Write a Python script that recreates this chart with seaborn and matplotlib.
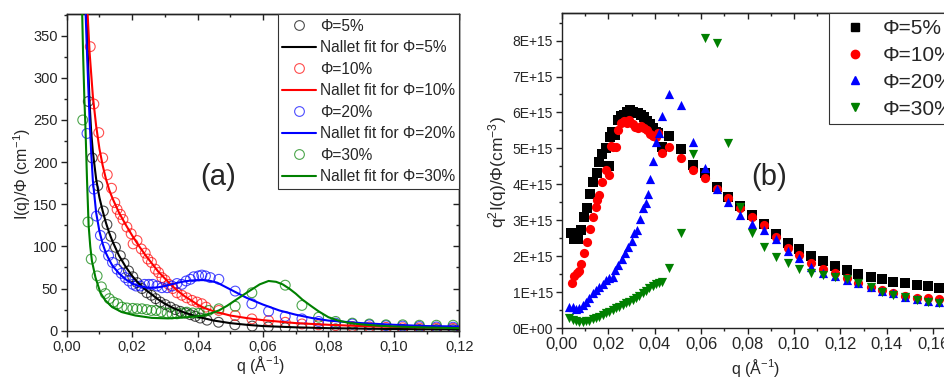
import numpy as np
import matplotlib
matplotlib.use("Agg")
import matplotlib.pyplot as plt
import seaborn as sns
from matplotlib.lines import Line2D
from matplotlib.ticker import MultipleLocator, FuncFormatter

# ---------------- data: panel (a)  I(q)/Phi vs q ----------------
qa_5 = [0.0066,0.0078,0.0095,0.0112,0.0123,0.0135,0.0149,0.0164,0.0175,0.0189,
        0.0202,0.0215,0.0230,0.0245,0.0259,0.0272,0.0286,0.0301,0.0317,0.0332,
        0.0347,0.0363,0.0378,0.0393,0.0408,0.0429,0.0464,0.0514,0.0567,0.0616,
        0.0668,0.0719,0.0770,0.0822,0.0873,0.0925,0.0976,0.1027,0.1078,0.1130,0.1181]
Ia_5 = [272,205,172,142,126,112,99,89,80,71,
        64,57,50,45,42,38,34,31,28,25,
        23,21,19,17,15,12.5,10,7,5.5,4.5,
        3.5,3,2.5,2.2,2,1.8,1.6,1.5,1.4,1.3,1.2]

qa_10 = [0.0072,0.0083,0.0098,0.0110,0.0124,0.0137,0.0147,0.0154,0.0164,0.0172,
         0.0184,0.0197,0.0203,0.0215,0.0228,0.0240,0.0248,0.0259,0.0271,0.0281,
         0.0291,0.0301,0.0312,0.0324,0.0337,0.0352,0.0367,0.0383,0.0398,0.0413,
         0.0426,0.0465,0.0515,0.0566,0.0617,0.0668,0.0719,0.0770,0.0822,0.0873,
         0.0925,0.0976,0.1027,0.1078,0.1130,0.1181]
Ia_10 = [337,269,235,205,185,169,152,144,138,132,
         123,115,103,107,97,92,85,81,73,69,
         63,60,55,50,45,42,39,36,34,32,
         28,24,18,14,12,10,8,7,6,5,
         4.5,4,3.5,3.2,3,2.8]

qa_20 = [0.0062,0.0083,0.0091,0.0103,0.0116,0.0128,0.0140,0.0154,0.0167,0.0179,
         0.0190,0.0202,0.0212,0.0225,0.0238,0.0251,0.0263,0.0276,0.0291,0.0307,
         0.0322,0.0337,0.0352,0.0365,0.0378,0.0388,0.0403,0.0413,0.0424,0.0439,
         0.0465,0.0515,0.0566,0.0617,0.0668,0.0719,0.0770,0.0822,0.0873,0.0925,
         0.0976,0.1027,0.1078,0.1130,0.1181]
Ia_20 = [234,168,136,113,99,89,81,73,68,63,
         59,55,53,53,55,55,55,53,51,51,
         53,56,55,59,61,64,65,66,65,63,
         61,47,32,23,17,14,11,9,8,7,
         6,5.5,5,4.5,4.2]

qa_30 = [0.0049,0.0065,0.0075,0.0093,0.0106,0.0118,0.0130,0.0143,0.0156,0.0169,
         0.0184,0.0202,0.0215,0.0230,0.0245,0.0259,0.0273,0.0289,0.0307,0.0322,
         0.0337,0.0352,0.0367,0.0385,0.0403,0.0419,0.0434,0.0465,0.0515,0.0566,
         0.0668,0.0719,0.0770,0.0822,0.0873,0.0925,0.0976,0.1027,0.1078,0.1130,0.1181]
Ia_30 = [250,129,85,65,52,44,38,34,32,28,
         27,26.5,26,26,25,24,24,22.5,21,20,
         20,21,22,21,20.5,22,24,26,29,45,
         54,30,16,11,9,8,7,7,6.5,6.5,6.5]

# Nallet fits
qf_5 = [0.0061,0.0065,0.0070,0.0075,0.0080,0.0090,0.0100,0.0110,0.0120,0.0130,
        0.0140,0.0160,0.0180,0.0200,0.0220,0.0240,0.0260,0.0280,0.0300,0.0320,
        0.0340,0.0360,0.0380,0.0400,0.0450,0.0500,0.0550,0.0600,0.0700,0.0800,
        0.0900,0.1000,0.1200]
If_5 = [375,320,270,235,212,180,158,142,128,116,
        106,89,76,65,56,49,43,37,32,28,
        24.5,21.5,19,16.5,12,9,7,5.5,4,3,
        2.5,2,1.5]

qf_10 = [0.0064,0.0070,0.0080,0.0090,0.0100,0.0110,0.0120,0.0130,0.0140,0.0160,
         0.0180,0.0200,0.0220,0.0240,0.0260,0.0280,0.0300,0.0320,0.0340,0.0360,
         0.0380,0.0400,0.0420,0.0450,0.0500,0.0550,0.0600,0.0700,0.0800,0.0900,
         0.1000,0.1100,0.1200]
If_10 = [375,330,278,243,216,196,180,167,157,140,
         126,113,101,90,80,70,62,54,47,41,
         36,31,27,23,18,15,12.5,9,7,5.5,
         4.5,4,3.5]

qf_20 = [0.0058,0.0062,0.0066,0.0070,0.0075,0.0080,0.0090,0.0100,0.0110,0.0120,
         0.0130,0.0140,0.0160,0.0180,0.0200,0.0220,0.0240,0.0260,0.0280,0.0300,
         0.0320,0.0340,0.0360,0.0380,0.0400,0.0420,0.0440,0.0460,0.0480,0.0500,
         0.0520,0.0550,0.0600,0.0650,0.0700,0.0750,0.0800,0.0900,0.1000,0.1100,0.1200]
If_20 = [375,330,290,250,210,178,140,118,103,92,
         84,77,68,61,56,53,51.5,51,51.5,53,
         55,57,58.5,59.5,60,60,59,57,53,49,
         45,39,31,24,19,15,12,9,7,5.5,5]

qf_30 = [0.0046,0.0050,0.0054,0.0057,0.0062,0.0067,0.0072,0.0077,0.0088,0.0103,
         0.0118,0.0139,0.0169,0.0210,0.0260,0.0310,0.0370,0.0414,0.0440,0.0465,
         0.0490,0.0515,0.0540,0.0566,0.0590,0.0617,0.0640,0.0660,0.0680,0.0700,
         0.0720,0.0748,0.0770,0.0800,0.0830,0.0860,0.0900,0.0950,0.1000,0.1100,0.1200]
If_30 = [400,330,275,245,180,125,100,83,63,45,
         36,28,22,18,15.2,14.6,16,18,20.5,24,
         29.5,36,42.5,49,55,59,58,55,50,44,
         37,29,23,16,12,9.5,7.5,6,5,3.8,3]

# ---------------- data: panel (b)  q^2 I(q)/Phi (units of 1E+15) ----------------
qb_hi = [0.0463,0.0513,0.0565,0.0616,0.0668,0.0717,0.0767,0.0820,0.0871,0.0922,
         0.0973,0.1023,0.1073,0.1125,0.1175,0.1227,0.1277,0.1330,0.1378,0.1428,
         0.1478,0.1529,0.1579,0.1626]

qb_5 = [0.0037,0.0053,0.0068,0.0080,0.0093,0.0106,0.0121,0.0135,0.0149,0.0161,
        0.0174,0.0188,0.0203,0.0207,0.0217,0.0228,0.0240,0.0253,0.0267,0.0279,
        0.0293,0.0305,0.0318,0.0329,0.0341,0.0353,0.0365,0.0379,0.0391,0.0405,
        0.0415,0.0430] + qb_hi
Kb_5 = [2.66,2.47,2.47,2.73,3.09,3.34,3.73,4.08,4.31,4.62,
        4.84,5.00,4.52,5.33,5.47,5.38,5.79,5.89,5.93,6.02,
        6.07,6.02,5.98,5.98,5.93,5.87,5.75,5.68,5.56,5.47,
        5.42,5.05,
        5.35,4.98,4.54,4.31,3.94,3.66,3.40,3.15,2.90,2.62,
        2.38,2.20,2.02,1.88,1.74,1.62,1.52,1.44,1.36,1.30,
        1.25,1.21,1.17,1.13]

qb_10 = [0.0042,0.0052,0.0063,0.0072,0.0080,0.0093,0.0106,0.0121,0.0135,0.0147,
         0.0152,0.0161,0.0174,0.0188,0.0203,0.0210,0.0221,0.0231,0.0243,0.0253,
         0.0267,0.0279,0.0290,0.0305,0.0315,0.0329,0.0341,0.0353,0.0365,0.0379,
         0.0391,0.0405,0.0415,0.0430] + qb_hi
Kb_10 = [1.27,1.46,1.53,1.60,1.78,2.10,2.41,2.75,3.09,3.36,
         3.57,3.71,4.08,4.40,4.26,5.07,5.03,5.05,5.50,5.72,
         5.77,5.72,5.79,5.68,5.61,5.56,5.63,5.56,5.50,5.40,
         5.35,5.33,5.42,4.87,
         5.05,4.73,4.40,4.17,3.86,3.61,3.34,3.10,2.87,2.55,
         2.24,2.04,1.81,1.64,1.53,1.39,1.27,1.16,1.07,0.99,
         0.91,0.85,0.83,0.82]

qb_20 = [0.0032,0.0046,0.0060,0.0075,0.0089,0.0103,0.0118,0.0132,0.0147,0.0161,
         0.0175,0.0188,0.0204,0.0218,0.0228,0.0243,0.0257,0.0272,0.0286,0.0300,
         0.0310,0.0322,0.0336,0.0351,0.0361,0.0369,0.0379,0.0391,0.0405,0.0418,
         0.0430] + qb_hi
Kb_20 = [0.58,0.58,0.53,0.56,0.65,0.74,0.85,0.97,1.07,1.16,
         1.23,1.34,1.39,1.42,1.62,1.76,1.92,2.09,2.27,2.44,
         2.64,2.73,3.03,3.34,3.49,3.73,4.14,4.66,5.19,5.44,
         5.89,
         6.52,6.21,5.19,4.45,3.86,3.52,3.15,2.90,2.72,2.47,
         2.16,1.95,1.71,1.55,1.46,1.34,1.25,1.14,1.05,0.97,
         0.88,0.82,0.77,0.74]

qb_30 = [0.0032,0.0046,0.0060,0.0075,0.0089,0.0103,0.0118,0.0132,0.0147,0.0161,
         0.0175,0.0190,0.0204,0.0218,0.0233,0.0247,0.0261,0.0276,0.0290,0.0305,
         0.0319,0.0333,0.0348,0.0362,0.0376,0.0391,0.0405,0.0420,0.0430] + qb_hi
Kb_30 = [0.28,0.23,0.19,0.17,0.17,0.19,0.21,0.25,0.28,0.32,
         0.37,0.42,0.46,0.51,0.56,0.60,0.65,0.70,0.74,0.78,
         0.85,0.90,0.98,1.05,1.12,1.18,1.23,1.27,1.30,
         1.67,2.64,4.85,8.06,7.92,5.14,3.38,2.64,2.25,1.99,
         1.81,1.64,1.55,1.48,1.44,1.36,1.25,1.14,1.02,0.93,
         0.88,0.79,0.74,0.70]

phi_labels = ["Φ=5%", "Φ=10%", "Φ=20%", "Φ=30%"]
colors = ["#000000", "#ff0000", "#0000ff", "#008000"]
markers_b = ["s", "o", "^", "v"]

# ---------------- style ----------------
sns.set_theme(style="white")
plt.rcParams["font.family"] = ["Liberation Sans", "DejaVu Sans"]
plt.rcParams["mathtext.fontset"] = "custom"
plt.rcParams["mathtext.rm"] = "Liberation Sans"
plt.rcParams["mathtext.it"] = "Liberation Sans:italic"
plt.rcParams["mathtext.default"] = "regular"

W, H = 944, 379
fig = plt.figure(figsize=(W / 100, H / 100), dpi=100)

def px_axes(l, t, r, b):
    return [l / W, 1 - b / H, (r - l) / W, (b - t) / H]

axA = fig.add_axes(px_axes(66.7, 14.3, 459.3, 330.7))
B_XMAX = 0.175
axB = fig.add_axes(px_axes(562, 12.7, 562 + B_XMAX / 0.02 * 46.4, 328.3))

comma = FuncFormatter(lambda v, p: f"{v:.2f}".replace(".", ","))

def style_axes(ax, xmaj, xmin, ymaj, ymin, yfmt, xl, yl):
    ax.set_xlim(*xl)
    ax.set_ylim(*yl)
    for s in ax.spines.values():
        s.set_visible(True)
        s.set_color("#222222")
        s.set_linewidth(1.0)
    ax.xaxis.set_major_locator(MultipleLocator(xmaj))
    ax.xaxis.set_minor_locator(MultipleLocator(xmin))
    ax.yaxis.set_major_locator(MultipleLocator(ymaj))
    ax.yaxis.set_minor_locator(MultipleLocator(ymin))
    ax.xaxis.set_major_formatter(comma)
    ax.yaxis.set_major_formatter(yfmt)
    ax.tick_params(which="both", direction="out", bottom=True, left=True,
                   top=False, right=False, color="#222222", width=1.0)
    ax.tick_params(which="major", length=4.5, labelsize=10.5, pad=2)
    ax.tick_params(which="minor", length=2.5)
    secx = ax.secondary_xaxis("top")
    secx.xaxis.set_major_locator(MultipleLocator(xmaj))
    secx.xaxis.set_minor_locator(MultipleLocator(xmin))
    secx.tick_params(which="both", direction="in", labeltop=False, color="#222222", width=1.0)
    secx.tick_params(which="major", length=4.5)
    secx.tick_params(which="minor", length=2.5)
    secy = ax.secondary_yaxis("right")
    secy.yaxis.set_major_locator(MultipleLocator(ymaj))
    secy.yaxis.set_minor_locator(MultipleLocator(ymin))
    secy.tick_params(which="both", direction="in", labelright=False, color="#222222", width=1.0)
    secy.tick_params(which="major", length=4.5)
    secy.tick_params(which="minor", length=2.5)
    for sec in (secx, secy):
        for s in sec.spines.values():
            s.set_color("#222222")
            s.set_linewidth(1.0)

# ---------------- panel (a) ----------------
data_a = [(qa_5, Ia_5), (qa_10, Ia_10), (qa_20, Ia_20), (qa_30, Ia_30)]
fits_a = [(qf_5, If_5), (qf_10, If_10), (qf_20, If_20), (qf_30, If_30)]
for (q, I), (qf, If), c in zip(data_a, fits_a, colors):
    sns.scatterplot(x=q, y=I, ax=axA, color=c, marker="o", s=50,
                    facecolors="none", edgecolor=c, linewidth=0.8, alpha=0.7,
                    legend=False, zorder=2)
    sns.lineplot(x=qf, y=If, ax=axA, color=c, linewidth=1.5,
                 estimator=None, sort=False, legend=False, zorder=3)

style_axes(axA, 0.02, 0.01, 50, 25,
           FuncFormatter(lambda v, p: f"{v:.0f}"), (0, 0.12), (0, 375.4))

handles_a, labels_a = [], []
for lab, c in zip(phi_labels, colors):
    handles_a.append(Line2D([], [], marker="o", ls="none", mfc="none", mec=c,
                            mew=0.8, ms=7, alpha=0.7))
    labels_a.append(lab)
    handles_a.append(Line2D([], [], color=c, lw=1.5))
    labels_a.append("Nallet fit for " + lab)
legA = axA.legend(handles_a, labels_a, loc="upper right", bbox_to_anchor=(1, 1),
                  borderaxespad=0, fontsize=11.2, handlelength=2.2,
                  handletextpad=0.22, labelspacing=0.42, borderpad=0.28,
                  fancybox=False, framealpha=1, edgecolor="#333333")
legA.get_frame().set_linewidth(0.8)

# ---------------- panel (b) ----------------
data_b = [(qb_5, Kb_5), (qb_10, Kb_10), (qb_20, Kb_20), (qb_30, Kb_30)]
for (q, K), c, m in zip(data_b, colors, markers_b):
    sns.scatterplot(x=q, y=np.array(K) * 1e15, ax=axB, color=c, marker=m,
                    s=44, linewidth=0, legend=False, zorder=2)

style_axes(axB, 0.02, 0.01, 1e15, 0.5e15,
           FuncFormatter(lambda v, p: "0E+00" if abs(v) < 1 else f"{v / 1e15:.0f}E+15"),
           (0, B_XMAX), (0, 8.774e15))
axB.tick_params(axis="y", labelsize=10)
axB.tick_params(axis="x", labelsize=12)

handles_b = [Line2D([], [], marker=m, ls="none", color=c, ms=6)
             for m, c in zip(markers_b, colors)]
legB = axB.legend(handles_b, phi_labels, loc="upper left",
                  bbox_to_anchor=(829 / W, 1 - 13.3 / H), bbox_transform=fig.transFigure,
                  borderaxespad=0, fontsize=15, handlelength=1.96,
                  handletextpad=0.37, labelspacing=0.38, borderpad=0.27,
                  fancybox=False, framealpha=1, edgecolor="#333333")
legB.get_frame().set_linewidth(0.8)

# ---------------- texts ----------------
def ftext(x, y, s, **kw):
    fig.text(x / W, 1 - y / H, s, ha="center", va="center", **kw)

ftext(260.8, 365, "q (Å$^{-1}$)", fontsize=11.5)
ftext(21.7, 174, "I(q)/Φ (cm$^{-1}$)", fontsize=11.5, rotation=90)
ftext(755.8, 368, "q (Å$^{-1}$)", fontsize=11.5)
ftext(498, 172.5, "q$^2$I(q)/Φ(cm$^{-3}$)", fontsize=12.5, rotation=90)
ftext(218, 176.7, "(a)", fontsize=21)
ftext(769.3, 176.7, "(b)", fontsize=21)

fig.savefig("out.png", dpi=100)
